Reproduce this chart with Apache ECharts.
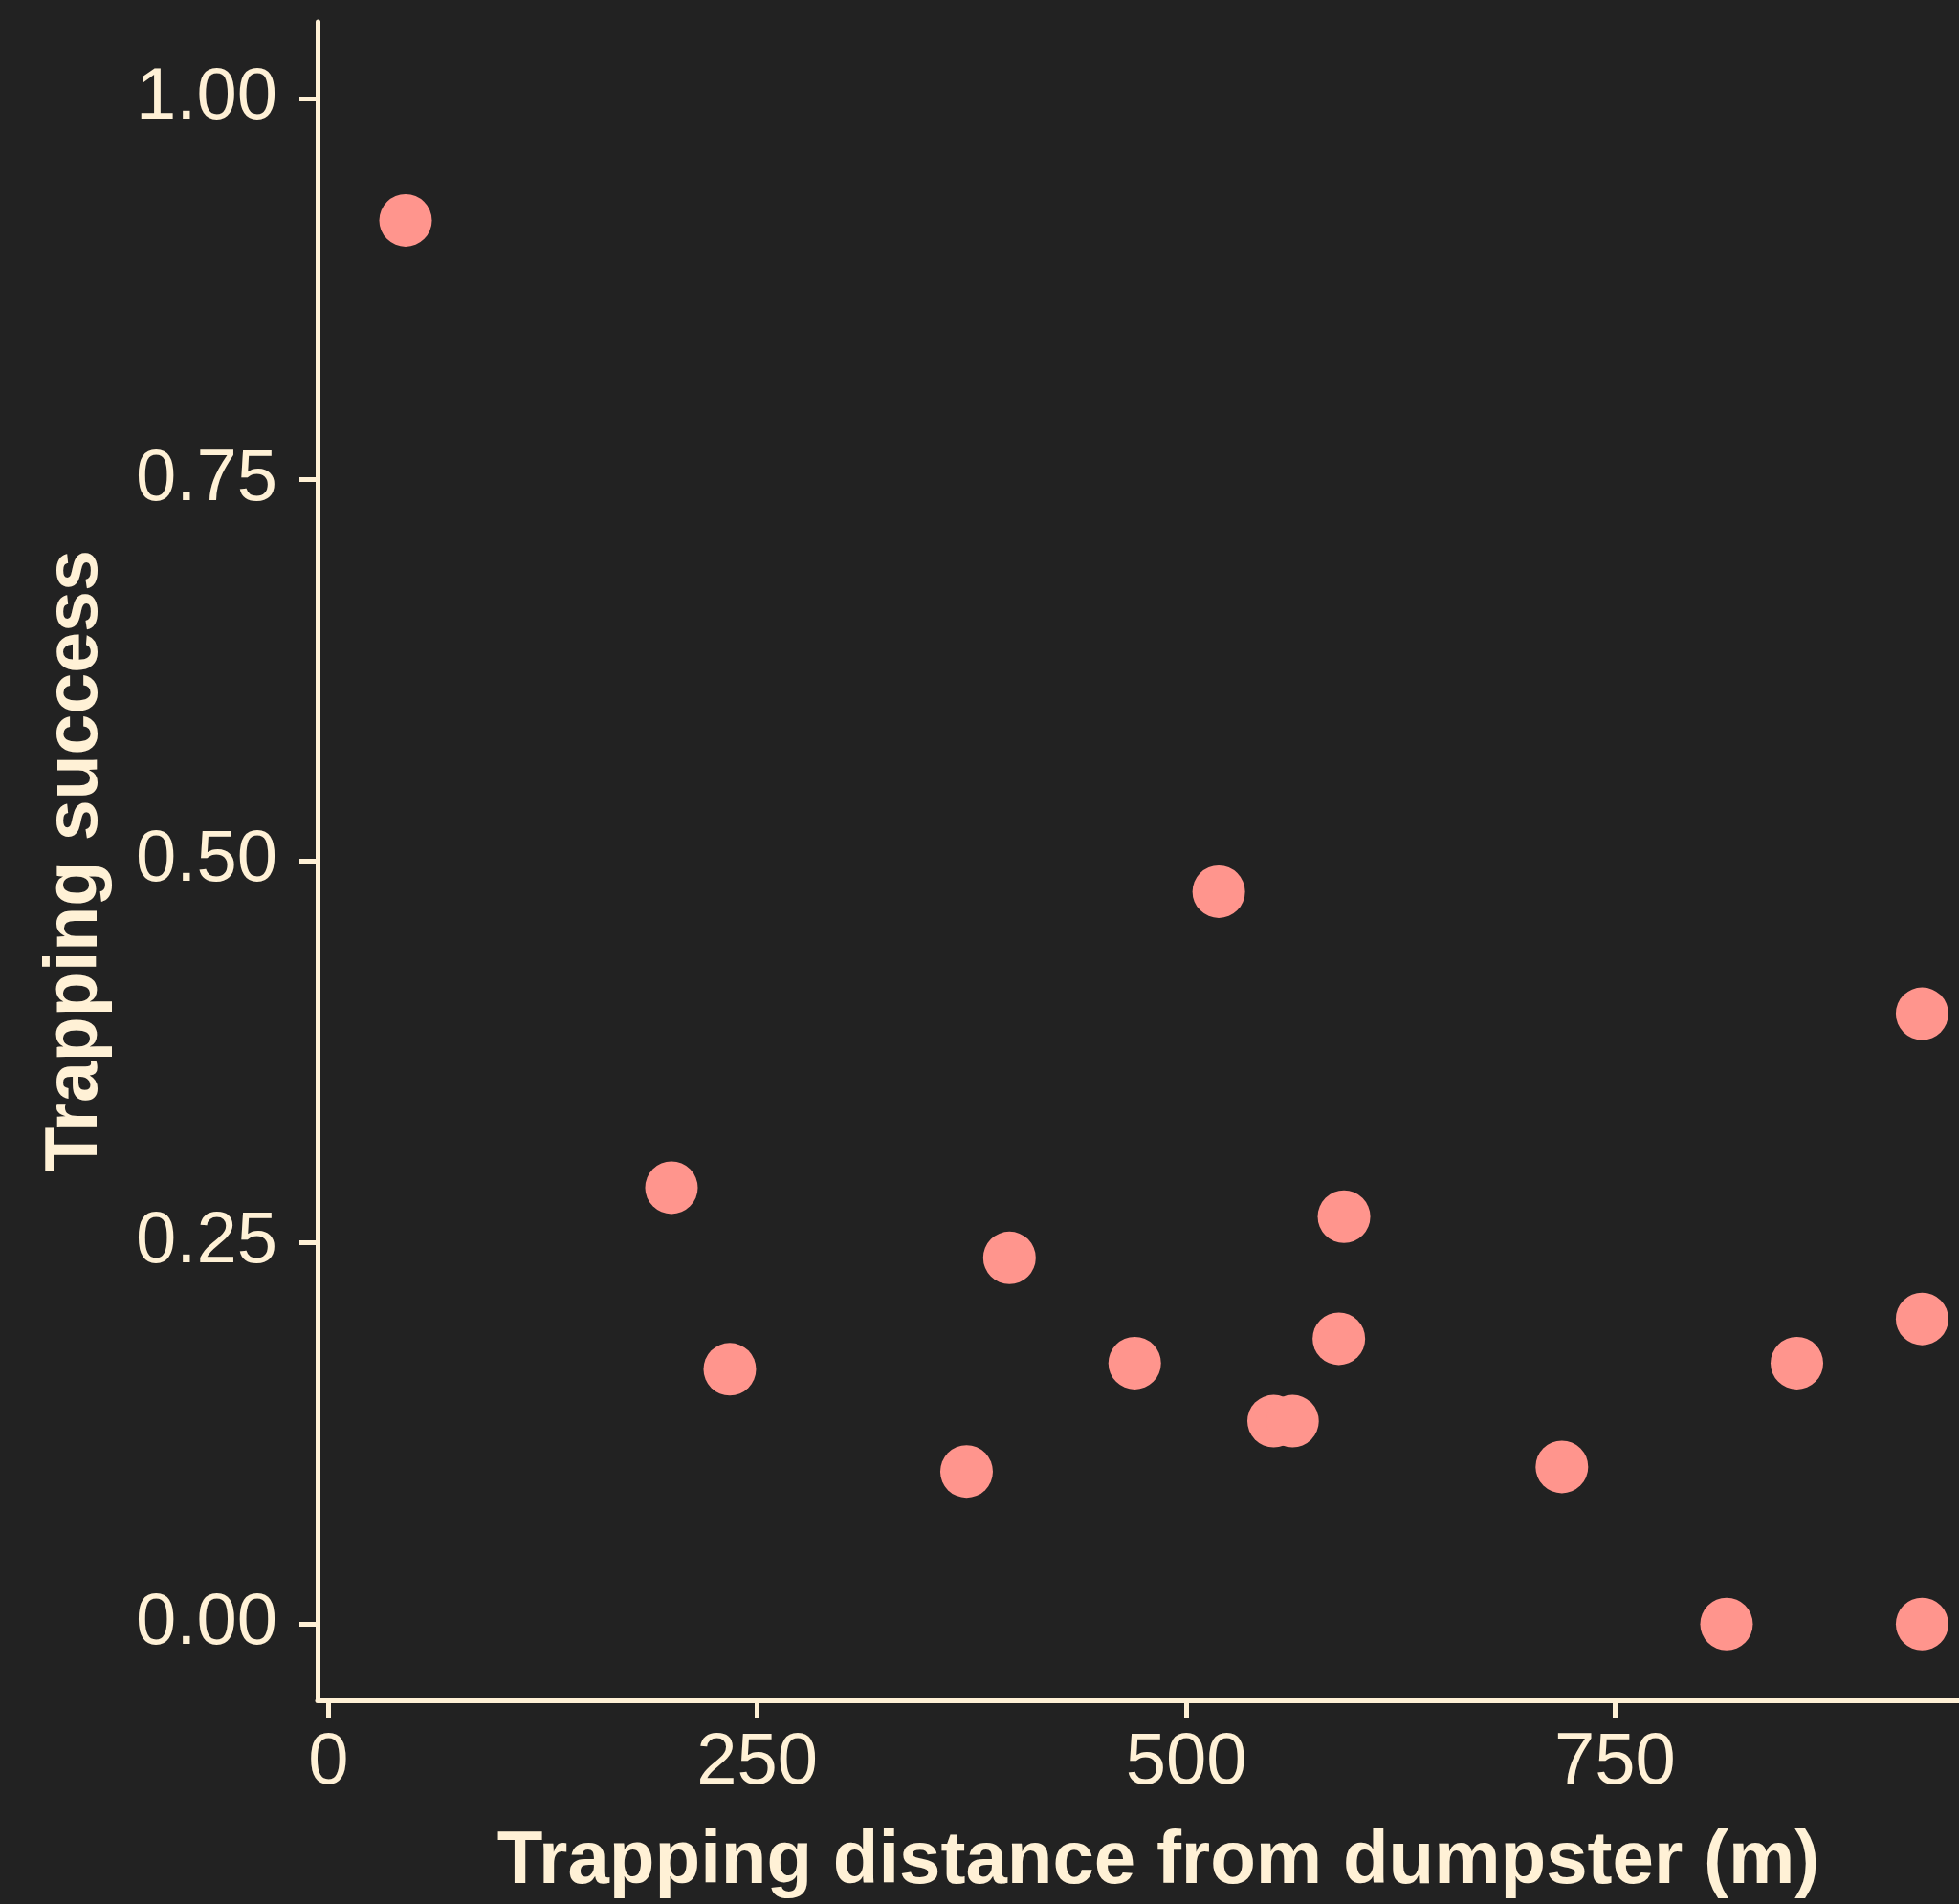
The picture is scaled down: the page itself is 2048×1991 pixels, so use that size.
<!DOCTYPE html>
<html>
<head>
<meta charset="utf-8">
<script src="https://cdn.jsdelivr.net/npm/echarts@6/dist/echarts.min.js"></script>
<style>
  html, body { margin: 0; padding: 0; background: #222222; }
  #chart { width: 2048px; height: 1991px; }
</style>
</head>
<body>
<div id="chart"></div>
<script>
const distance = [45, 200, 234, 372, 397, 470, 519, 551, 562, 589, 592, 719, 815, 856, 929, 929, 929];
const success = [0.92, 0.286, 0.167, 0.1, 0.24, 0.171, 0.48, 0.133, 0.133, 0.187, 0.267, 0.103, 0, 0.171, 0.4, 0.2, 0];
const xTicks = [0, 250, 500, 750];
const yTicks = [0, 0.25, 0.5, 0.75, 1];

const ink = '#fff1d6';
const font = 'Liberation Sans';
const chart = echarts.init(document.getElementById('chart'));

const points = distance.map((d, i) => [d, success[i]]);

chart.setOption({
  backgroundColor: '#222222',
  animation: false,
  textStyle: { fontFamily: font },
  grid: { left: 332, right: 0, top: 23, bottom: 212 },
  xAxis: {
    type: 'value',
    min: -6.3,
    max: 950.5,
    name: 'Trapping distance from dumpster (m)',
    nameLocation: 'middle',
    nameGap: 130,
    // the original panel is cut at the right edge, so its title sits a bit right of centre
    nameTextStyle: { color: ink, fontSize: 78, fontWeight: 'bold', fontFamily: font, padding: [0, 0, 0, 42] },
    axisLine: { onZero: false, lineStyle: { color: ink, width: 5 } },
    axisTick: { customValues: xTicks, length: 19, lineStyle: { color: ink, width: 5 } },
    axisLabel: { customValues: xTicks, color: ink, fontSize: 76, margin: 28 },
    splitLine: { show: false }
  },
  yAxis: {
    type: 'value',
    min: -0.05,
    max: 1.05,
    name: 'Trapping success',
    nameLocation: 'middle',
    nameGap: 214,
    nameTextStyle: { color: ink, fontSize: 77, fontWeight: 'bold', fontFamily: font },
    axisLine: { onZero: false, lineStyle: { color: ink, width: 5 } },
    axisTick: { customValues: yTicks, length: 19, lineStyle: { color: ink, width: 5 } },
    axisLabel: {
      customValues: yTicks,
      color: ink,
      fontSize: 76,
      margin: 42,
      formatter: (v) => v.toFixed(2)
    },
    splitLine: { show: false }
  },
  series: [
    {
      type: 'scatter',
      data: points,
      symbolSize: 55,
      itemStyle: { color: '#ff958d', opacity: 1 }
    }
  ]
});
</script>
</body>
</html>
